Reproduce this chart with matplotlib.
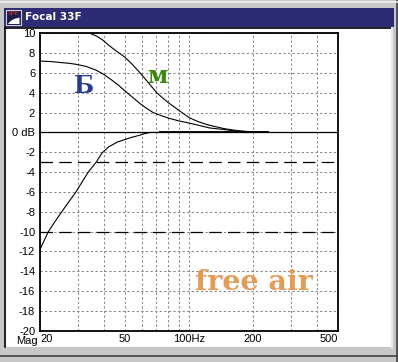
import matplotlib
matplotlib.use('Agg')
import matplotlib.pyplot as plt
from matplotlib.patches import Rectangle, Polygon
from matplotlib.ticker import FixedLocator, NullFormatter

# ---- data ----
freq_hp = [20, 21.9, 23.5, 25.3, 27.3, 29.5, 31.5, 33.7, 36.7, 39.0, 42, 46.4, 52.8,
           58.9, 62, 66, 100, 150, 234]
db_hp = [-11.8, -10, -9, -8, -7, -6, -5, -4, -3, -2.1, -1.45, -0.95, -0.55,
         -0.27, -0.12, 0, 0, 0, 0]

freq_b = [20, 22.5, 25, 27.5, 30, 33, 36.5, 39.5, 43, 46.5, 50, 54, 59, 63, 68, 74, 80,
          90, 100, 112, 125, 145, 160, 175, 200, 234]
db_b = [7.2, 7.15, 7.05, 6.97, 6.85, 6.65, 6.3, 5.9, 5.35, 4.8, 4.2, 3.6, 2.9, 2.45, 2.0,
        1.7, 1.45, 1.15, 0.95, 0.7, 0.45, 0.3, 0.18, 0.1, 0.04, 0]

freq_m = [34.3, 37, 39.5, 42, 45, 50, 54, 59, 64, 70.6, 75, 80, 90, 100, 110, 121, 132,
          145, 160, 175, 200, 234]
db_m = [10, 9.7, 9.3, 8.8, 8.3, 7.6, 6.9, 6.0, 5.1, 4.0, 3.5, 3.0, 2.2, 1.5, 1.1, 0.8, 0.6,
        0.4, 0.25, 0.15, 0.05, 0]

ref_levels = [-3, -10]

x_major = [20, 50, 100, 200, 500]
x_major_labels = ['20', '50', '100Hz', '200', '500']
x_minor = [30, 40, 60, 70, 80, 90, 300, 400]
y_ticks = list(range(-20, 11, 2))
y_labels = ['0 dB' if v == 0 else str(v) for v in y_ticks]

title = 'Focal 33F'

# ---- figure ----
W, H = 398, 362
fig = plt.figure(figsize=(W / 100, H / 100), dpi=100)
fig.patch.set_facecolor('#C8C8C8')

bg = fig.add_axes([0, 0, 1, 1])
bg.set_xlim(0, W)
bg.set_ylim(H, 0)
bg.axis('off')

# window frame
bg.add_patch(Rectangle((0, 0), W, H, facecolor='#C8C8C8', edgecolor='none'))
bg.add_patch(Rectangle((4, 8), 390, 18.5, facecolor='#2C2B74', edgecolor='none'))
bg.add_patch(Rectangle((5, 28), 386, 319, facecolor='white', edgecolor='none'))
bg.plot([5, 5], [28, 347], color='black', lw=1.2)
bg.plot([5, 391], [28, 28], color='black', lw=1.2)
bg.plot([391.5, 391.5], [28, 348], color='#E8E8E8', lw=1.5)
bg.plot([0, W], [355.5, 355.5], color='#404040', lw=1.2)
bg.plot([396.5, 396.5], [0, H], color='#404040', lw=1.2)
bg.plot([0, W], [2, 2], color='#F0F0F0', lw=1.2)

# icon
bg.add_patch(Rectangle((5.5, 9.5), 15.5, 15.5, facecolor='#1C1C48', edgecolor='#D0D0D0', lw=0.8))
bg.text(13.2, 13.5, 'SPK', color='#E03030', fontsize=4.3, ha='center', va='center',
        family='DejaVu Sans')
bg.add_patch(Polygon([(8, 24), (19.5, 24), (19.5, 17.5), (14, 19), (10, 21.5)],
                     closed=True, facecolor='white', edgecolor='none'))

bg.text(25, 17.3, title, color='white', fontsize=7.6, fontweight='bold',
        ha='left', va='center', family='DejaVu Sans')

bg.text(16, 336, 'Mag', color='black', fontsize=8, ha='left', va='top',
        family='Liberation Sans')

# ---- plot axes ----
L, R, T, B = 40, 338, 33.3, 330.7
ax = fig.add_axes([L / W, (H - B) / H, (R - L) / W, (B - T) / H])
ax.set_facecolor('white')
ax.set_xscale('log')
ax.set_xlim(20, 500)
ax.set_ylim(-20, 10)

ax.xaxis.set_major_locator(FixedLocator(x_major))
ax.set_xticklabels(x_major_labels)
ax.xaxis.set_minor_locator(FixedLocator(x_minor))
ax.xaxis.set_minor_formatter(NullFormatter())
ax.set_yticks(y_ticks)
ax.set_yticklabels(y_labels)

ax.tick_params(axis='both', which='both', length=0)
ax.tick_params(axis='y', pad=3.5, labelsize=8)
ax.tick_params(axis='x', pad=2.5, labelsize=8)
for lab in ax.get_xticklabels() + ax.get_yticklabels():
    lab.set_family('Liberation Sans')
xl = ax.get_xticklabels()
xl[0].set_ha('left')
xl[-1].set_ha('right')

ax.grid(True, which='both', color='#888888', linestyle=(0, (2.2, 2.2)), linewidth=0.75)
ax.set_axisbelow(True)

for s in ax.spines.values():
    s.set_color('black')
    s.set_linewidth(1.3)

ax.axhline(0, color='black', lw=0.9, zorder=2)
for lv in ref_levels:
    ax.axhline(lv, color='black', lw=0.9, linestyle=(0, (10, 5)), zorder=2)

ax.plot(freq_hp, db_hp, color='black', lw=0.8, zorder=3)
ax.plot(freq_b, db_b, color='black', lw=0.8, zorder=3)
ax.plot(freq_m, db_m, color='black', lw=0.8, zorder=3)
ax.plot([73, 234], [0, 0], color='black', lw=1.3, zorder=3)

# annotations
fig.text(84 / W, 1 - 86 / H, 'Б', color='#283C8E', fontsize=17, fontweight='bold',
         family='DejaVu Serif', ha='center', va='center')
fig.text(157.5 / W, 1 - 76 / H, 'м', color='#3A8A10', fontsize=17, fontweight='bold',
         family='DejaVu Serif', ha='center', va='center')
fig.text(254 / W, 1 - 290 / H, 'free air', color='#E39B58', fontsize=20.5,
         fontweight='bold', family='DejaVu Serif', ha='center', va='baseline')

fig.savefig('out.png', dpi=100, facecolor=fig.get_facecolor())
